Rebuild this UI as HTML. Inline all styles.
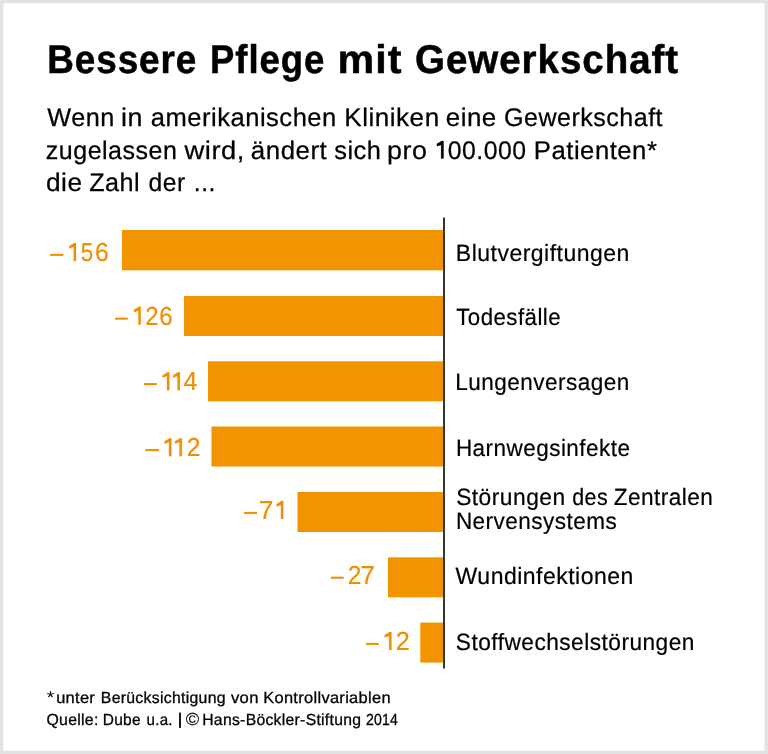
<!DOCTYPE html>
<html><head><meta charset="utf-8">
<style>
html,body{margin:0;padding:0;background:#fff;}
body{width:768px;height:754px;overflow:hidden;position:relative;}
svg{position:absolute;left:0;top:0;will-change:transform;}
text{font-family:"Liberation Sans",sans-serif;text-rendering:geometricPrecision;}
.t{font-weight:bold;font-size:40px;letter-spacing:1px;fill:#000;stroke:#000;stroke-width:0.5px;}
.s{font-size:25.5px;letter-spacing:0.5px;fill:#000;stroke:#000;stroke-width:0.25px;}
.l{font-size:23.5px;letter-spacing:0.5px;fill:#000;stroke:#000;stroke-width:0.2px;}
.n{font-size:26px;fill:#f08e00;}
.n text,.n polygon{stroke:#f08e00;stroke-width:0.2px;}
.f{font-size:16px;letter-spacing:0.3px;fill:#000;stroke:#000;stroke-width:0.3px;}
.f rect{fill:#000;stroke:none;}
</style></head><body>
<svg width="768" height="754" viewBox="0 0 768 754">
<path fill="#e2e2e3" fill-rule="evenodd" d="M0 0H768V754H0Z M3.4 3.3V750.7H764.5V3.3Z"/>
<g class="t">
<text x="47.26" y="73" textLength="150.00" lengthAdjust="spacingAndGlyphs">Bessere</text>
<text x="210.07" y="73" textLength="115.10" lengthAdjust="spacingAndGlyphs">Pflege</text>
<text x="337.54" y="73" textLength="64.99" lengthAdjust="spacingAndGlyphs">mit</text>
<text x="415.04" y="73" textLength="264.06" lengthAdjust="spacingAndGlyphs">Gewerkschaft</text>
</g>
<g class="s">
<text x="47.30" y="126.2" textLength="67.54" lengthAdjust="spacingAndGlyphs">Wenn</text>
<text x="120.99" y="126.2" textLength="21.96" lengthAdjust="spacingAndGlyphs">in</text>
<text x="150.80" y="126.2" textLength="186.00" lengthAdjust="spacingAndGlyphs">amerikanischen</text>
<text x="344.26" y="126.2" textLength="95.41" lengthAdjust="spacingAndGlyphs">Kliniken</text>
<text x="445.68" y="126.2" textLength="51.16" lengthAdjust="spacingAndGlyphs">eine</text>
<text x="504.02" y="126.2" textLength="159.06" lengthAdjust="spacingAndGlyphs">Gewerkschaft</text>
<text x="45.82" y="158.5" textLength="131.56" lengthAdjust="spacingAndGlyphs">zugelassen</text>
<text x="184.50" y="158.5" textLength="60.52" lengthAdjust="spacingAndGlyphs">wird,</text>
<text x="250.89" y="158.5" textLength="76.33" lengthAdjust="spacingAndGlyphs">ändert</text>
<text x="334.20" y="158.5" textLength="47.14" lengthAdjust="spacingAndGlyphs">sich</text>
<text x="386.99" y="158.5" textLength="40.44" lengthAdjust="spacingAndGlyphs">pro</text>
<text x="447.73" y="158.5" textLength="78.74" lengthAdjust="spacingAndGlyphs">00.000</text>
<polygon stroke-width="0.2" points="443.60,140.90 443.60,158.60 441.10,158.60 441.10,144.90 436.90,146.30 436.90,143.80 440.50,141.70 441.30,140.90"/>
<text x="533.89" y="158.5" textLength="123.51" lengthAdjust="spacingAndGlyphs">Patienten*</text>
<text x="45.97" y="191" textLength="36.61" lengthAdjust="spacingAndGlyphs">die</text>
<text x="89.21" y="191" textLength="50.98" lengthAdjust="spacingAndGlyphs">Zahl</text>
<text x="148.53" y="191" textLength="37.12" lengthAdjust="spacingAndGlyphs">der</text>
<text x="193.87" y="191" textLength="22.01" lengthAdjust="spacingAndGlyphs">...</text>
</g>

<g fill="#f29400">
<rect x="122" y="230" width="321" height="40.3"/>
<rect x="184" y="296" width="259" height="40"/>
<rect x="208" y="361.3" width="235" height="40"/>
<rect x="211.5" y="426.5" width="231.5" height="40"/>
<rect x="297.5" y="492" width="145.5" height="40"/>
<rect x="388" y="557.3" width="55" height="40"/>
<rect x="420.3" y="622.6" width="22.7" height="40"/>
</g>
<rect x="443" y="217.5" width="2" height="451" fill="#353535"/>

<g class="n">
<rect x="50.1" y="253.90" width="13.30" height="2"/>
<polygon points="76.00,243.00 76.00,261.00 73.70,261.00 73.70,246.90 69.30,248.60 69.30,246.00 73.10,243.80 73.90,243.00"/>
<text transform="translate(80.80,261.0) scale(0.860,1)">5</text>
<text transform="translate(94.95,261.0) scale(0.950,1)">6</text>
<rect x="115" y="317.65" width="12.80" height="2"/>
<polygon points="140.80,306.75 140.80,324.75 138.40,324.75 138.40,310.65 134.00,312.35 134.00,309.75 137.80,307.55 138.60,306.75"/>
<text transform="translate(145.29,324.75) scale(0.929,1)">2</text>
<text transform="translate(159.28,324.75) scale(0.925,1)">6</text>
<rect x="143.9" y="383.10" width="13.00" height="2"/>
<polygon points="169.40,372.20 169.40,390.20 167.00,390.20 167.00,376.10 162.60,377.80 162.60,375.20 166.40,373.00 167.20,372.20"/>
<polygon points="179.90,372.20 179.90,390.20 177.50,390.20 177.50,376.10 173.10,377.80 173.10,375.20 176.90,373.00 177.70,372.20"/>
<text transform="translate(183.43,390.2) scale(0.954,1)">4</text>
<rect x="145.4" y="449.10" width="13.60" height="2"/>
<polygon points="171.40,438.20 171.40,456.20 169.00,456.20 169.00,442.10 164.60,443.80 164.60,441.20 168.40,439.00 169.20,438.20"/>
<polygon points="181.90,438.20 181.90,456.20 179.50,456.20 179.50,442.10 175.10,443.80 175.10,441.20 178.90,439.00 179.70,438.20"/>
<text transform="translate(186.75,456.2) scale(0.954,1)">2</text>
<rect x="244" y="511.90" width="13.00" height="2"/>
<text transform="translate(258.65,519.0) scale(1.015,1)">7</text>
<polygon points="283.30,501.00 283.30,519.00 281.00,519.00 281.00,504.90 276.60,506.60 276.60,504.00 280.40,501.80 281.20,501.00"/>
<rect x="330.9" y="576.70" width="12.80" height="2"/>
<text transform="translate(347.76,583.8) scale(0.946,1)">2</text>
<text transform="translate(360.57,583.8) scale(0.998,1)">7</text>
<rect x="365.9" y="642.90" width="12.90" height="2"/>
<polygon points="391.50,632.00 391.50,650.00 389.10,650.00 389.10,635.90 384.70,637.60 384.70,635.00 388.50,632.80 389.30,632.00"/>
<text transform="translate(395.63,650.0) scale(0.971,1)">2</text>
</g>

<g class="l">
<text x="455.84" y="261" textLength="173.96" lengthAdjust="spacingAndGlyphs">Blutvergiftungen</text>
<text x="456.30" y="324.5" textLength="104.73" lengthAdjust="spacingAndGlyphs">Todesfälle</text>
<text x="455.28" y="390" textLength="174.52" lengthAdjust="spacingAndGlyphs">Lungenversagen</text>
<text x="455.89" y="456.3" textLength="174.59" lengthAdjust="spacingAndGlyphs">Harnwegsinfekte</text>
<text x="456.13" y="504.5" textLength="109.51" lengthAdjust="spacingAndGlyphs">Störungen</text>
<text x="572.19" y="504.5" textLength="35.88" lengthAdjust="spacingAndGlyphs">des</text>
<text x="613.64" y="504.5" textLength="99.77" lengthAdjust="spacingAndGlyphs">Zentralen</text>
<text x="455.88" y="529.2" textLength="161.29" lengthAdjust="spacingAndGlyphs">Nervensystems</text>
<text x="455.60" y="583.5" textLength="178.19" lengthAdjust="spacingAndGlyphs">Wundinfektionen</text>
<text x="455.84" y="649.5" textLength="239.04" lengthAdjust="spacingAndGlyphs">Stoffwechselstörungen</text>
</g>

<g class="f">
<text x="46.89" y="702.6" textLength="7.51" lengthAdjust="spacingAndGlyphs" style="font-size:17px;letter-spacing:0;stroke-width:0">*</text>
<text x="56.17" y="702.7" textLength="38.99" lengthAdjust="spacingAndGlyphs">unter</text>
<text x="100.81" y="702.7" textLength="125.04" lengthAdjust="spacingAndGlyphs">Berücksichtigung</text>
<text x="231.00" y="702.7" textLength="27.73" lengthAdjust="spacingAndGlyphs">von</text>
<text x="263.17" y="702.7" textLength="127.74" lengthAdjust="spacingAndGlyphs">Kontrollvariablen</text>
<text x="46.41" y="724.5" textLength="52.27" lengthAdjust="spacingAndGlyphs">Quelle:</text>
<text x="102.73" y="724.5" textLength="38.10" lengthAdjust="spacingAndGlyphs">Dube</text>
<text x="146.56" y="724.5" textLength="26.28" lengthAdjust="spacingAndGlyphs">u.a.</text>
<rect x="179.1" y="712.6" width="1.8" height="15.3"/>
<text x="185.72" y="724.6" textLength="13.46" lengthAdjust="spacingAndGlyphs" style="font-size:17.4px;letter-spacing:0;stroke-width:0.15px">©</text>
<text x="202.22" y="724.5" textLength="159.09" lengthAdjust="spacingAndGlyphs">Hans-Böckler-Stiftung</text>
<text x="365.92" y="724.5" textLength="32.28" lengthAdjust="spacingAndGlyphs">2014</text>
</g>
</svg>
</body></html>
